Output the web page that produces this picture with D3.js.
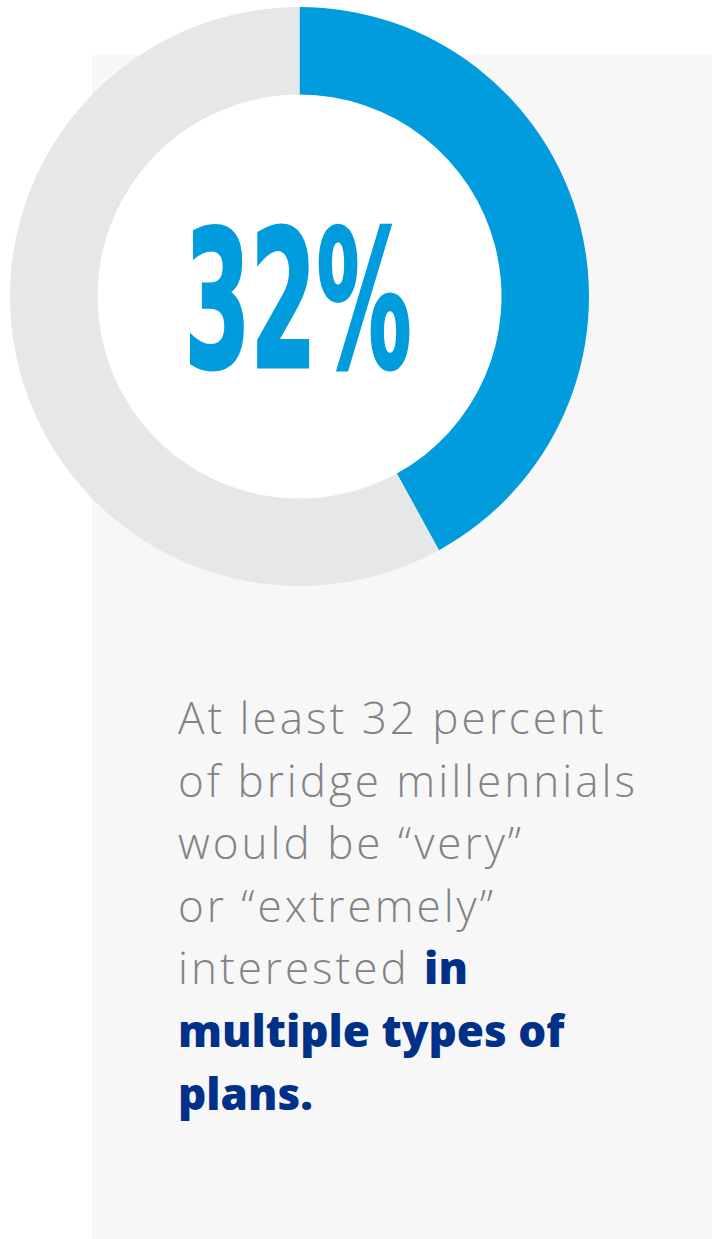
<!DOCTYPE html>
<html>
<head>
<meta charset="utf-8">
<script src="https://cdn.jsdelivr.net/npm/d3@7"></script>
<style>
  html, body { margin: 0; padding: 0; background: #ffffff; }
  svg { display: block; }
</style>
</head>
<body>
<svg id="chart" width="712" height="1239"></svg>
<script>
// ---- data ----
const segmentLabels = ["interested", "rest"];
const segmentValues = [42, 58];
const headline = "32%";
const bodyLines = [
  [{ t: "At least 32 percent", b: false }],
  [{ t: "of bridge millennials", b: false }],
  [{ t: "would be \u201cvery\u201d", b: false }],
  [{ t: "or \u201cextremely\u201d", b: false }],
  [{ t: "interested ", b: false }, { t: "in", b: true }],
  [{ t: "multiple types of", b: true }],
  [{ t: "plans.", b: true }]
];

// ---- drawing ----
const svg = d3.select("#chart");
const W = 712, H = 1239;

svg.append("rect").attr("x", 0).attr("y", 0).attr("width", W).attr("height", H).attr("fill", "#ffffff");
svg.append("rect").attr("x", 92).attr("y", 55).attr("width", W - 92).attr("height", H - 55).attr("fill", "#f7f7f7");

const cx = 299.5, cy = 296.5, rOuter = 289.5, rInner = 202;
const g = svg.append("g").attr("transform", `translate(${cx},${cy})`);

const colors = d3.scaleOrdinal().domain(segmentLabels).range(["#009cde", "#e6e7e9"]);
const pie = d3.pie().sort(null).value(d => d.v);
const arcs = pie(segmentLabels.map((k, i) => ({ k, v: segmentValues[i] })));
const arc = d3.arc().innerRadius(rInner).outerRadius(rOuter);

g.append("circle").attr("r", rInner).attr("fill", "#ffffff");
g.selectAll("path.seg").data(arcs).join("path")
  .attr("class", "seg")
  .attr("d", arc)
  .attr("fill", d => colors(d.data.k));

// headline
const ht = svg.append("text")
  .attr("x", 0).attr("y", 0)
  .attr("font-family", "'Liberation Sans Narrow', 'DejaVu Sans Condensed', 'Liberation Sans', sans-serif")
  .attr("font-weight", 700)
  .attr("font-size", 190)
  .attr("fill", "#009cde")
  .attr("stroke", "#009cde")
  .attr("stroke-width", 3)
  .text(headline);
const bb = ht.node().getBBox();
const targetW = 227, targetLeft = 184.5, baseline = 367;
const sx = targetW / bb.width;
ht.attr("transform", `translate(${targetLeft - bb.x * sx},${baseline}) scale(${sx},1)`);

// body text
const tx = 178, y0 = 734, lh = 62.6;
const body = svg.append("g");
bodyLines.forEach((line, i) => {
  const t = body.append("text")
    .attr("x", tx)
    .attr("y", y0 + i * lh)
    .attr("font-family", "'Open Sans', sans-serif")
    .attr("font-size", 44);
  line.forEach(seg => {
    t.append("tspan")
      .attr("font-weight", seg.b ? 800 : 300)
      .attr("letter-spacing", seg.b ? 0 : 3)
      .attr("fill", seg.b ? "#003087" : "#838386")
      .text(seg.t);
  });
});
</script>
</body>
</html>
